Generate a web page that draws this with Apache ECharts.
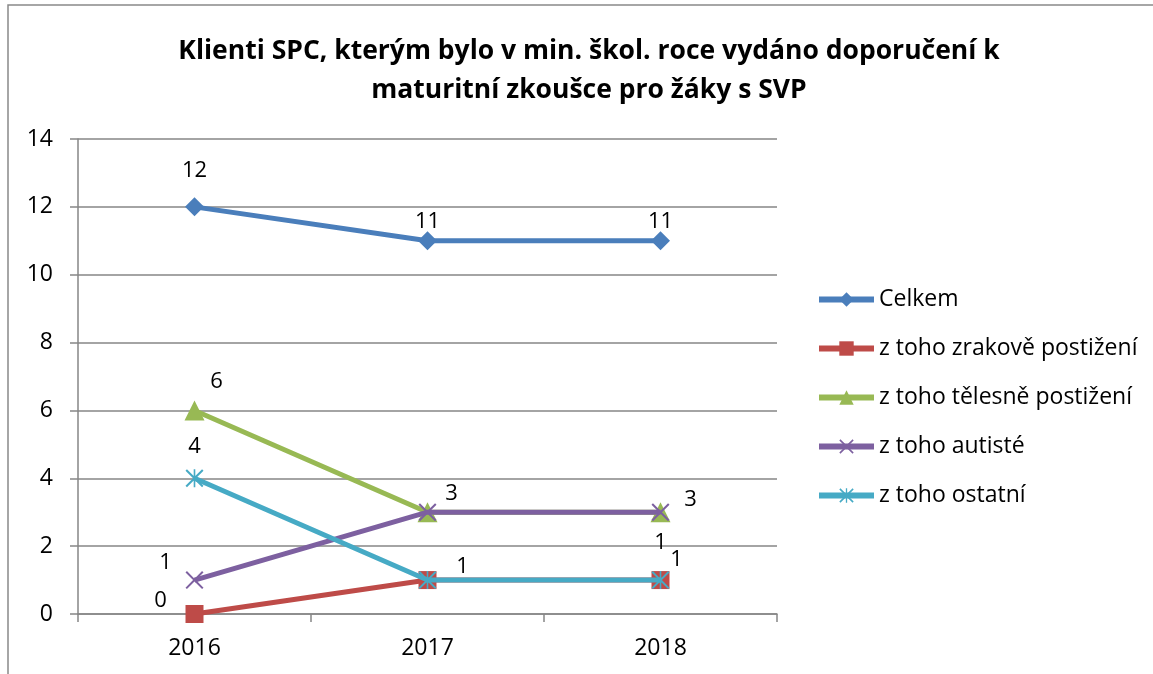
<!DOCTYPE html>
<html><head><meta charset="utf-8">
<script src="https://cdn.jsdelivr.net/npm/echarts@6/dist/echarts.min.js"></script>
<style>html,body{margin:0;padding:0;background:#fff}#c{width:1153px;height:674px}</style>
</head><body><div id="c"></div>
<script>
const titleText = 'Klienti SPC, kterým bylo v min. škol. roce vydáno doporučení k\nmaturitní zkoušce pro žáky s SVP';
const categories = ['2016', '2017', '2018'];
const seriesNames = ['Celkem', 'z toho zrakově postižení', 'z toho tělesně postižení', 'z toho autisté', 'z toho ostatní'];
const celkem = [12, 11, 11];
const zrakove = [0, 1, 1];
const telesne = [6, 3, 3];
const autiste = [1, 3, 3];
const ostatni = [4, 1, 1];
const yTicks = {min: 0, max: 14, interval: 2};

// label placement (null = label hidden due to overlap in original)
const labelOffsets = [
  [[0, -36], [0, -19], [0, -19]],
  [[-34, -13], [35, -13], [16, -20]],
  [[22, -29], [24, -18], null],
  [[-29, -17], null, [30, -12]],
  [[0, -32], null, [0, -37]]
];
const colors = ['#4A7EBB', '#BE4B48', '#98B954', '#7D60A0', '#46AAC5'];
const xPath = 'path://M0,0.8 L0.8,0 L5,4.2 L9.2,0 L10,0.8 L5.8,5 L10,9.2 L9.2,10 L5,5.8 L0.8,10 L0,9.2 L4.2,5 Z';
const starPath = 'path://M0,0.8 L0.8,0 L5,4.2 L9.2,0 L10,0.8 L5.8,5 L10,9.2 L9.2,10 L5,5.8 L0.8,10 L0,9.2 L4.2,5 Z M4.55,0 L5.45,0 L5.45,10 L4.55,10 Z';
const symbols = ['diamond', 'rect', 'triangle', xPath, starPath];
const symbolSizes = [19, 18, 20, 18, 18];
const values = [celkem, zrakove, telesne, autiste, ostatni];
const FONT = 'Open Sans';

const series = values.map((vals, si) => ({
  name: seriesNames[si],
  type: 'line',
  data: vals.map((v, i) => {
    const off = labelOffsets[si][i];
    return {
      value: v,
      label: off ? {show: true, position: 'inside', offset: off} : {show: false}
    };
  }),
  symbol: symbols[si],
  symbolSize: symbolSizes[si],
  showAllSymbol: true,
  lineStyle: {width: 5, color: colors[si]},
  itemStyle: {color: colors[si]},
  label: {color: '#000', fontSize: 22, fontFamily: FONT},
  emphasis: {disabled: true},
  animation: false,
  z: 2 + si
}));

const chart = echarts.init(document.getElementById('c'), null, {renderer: 'canvas'});
chart.setOption({
  backgroundColor: '#fff',
  animation: false,
  color: colors,
  title: {
    text: titleText,
    left: 584,
    top: 27,
    textAlign: 'center',
    textStyle: {fontFamily: FONT, fontWeight: 'bold', fontSize: 26.5, lineHeight: 39, color: '#000'}
  },
  graphic: [{
    type: 'rect', shape: {x: 8, y: 5, width: 1200, height: 750},
    style: {fill: 'none', stroke: '#898989', lineWidth: 1.5}, silent: true, z: 100
  }],
  legend: {
    orient: 'vertical',
    left: 811,
    top: 283,
    itemWidth: 55,
    itemHeight: 18,
    itemGap: 26,
    data: seriesNames.map(n => ({name: n, lineStyle: {width: 6}})),
    lineStyle: {width: 6},
    textStyle: {fontFamily: FONT, fontSize: 23, color: '#000'},
    selectedMode: false
  },
  grid: {left: 78, right: 376, top: 139, bottom: 60, containLabel: false},
  xAxis: {
    type: 'category',
    data: categories,
    boundaryGap: true,
    axisLine: {lineStyle: {color: '#868686', width: 1.5}},
    axisTick: {show: true, length: 8, lineStyle: {color: '#868686', width: 1.5}},
    axisLabel: {fontFamily: FONT, fontSize: 23, color: '#000', margin: 23},
    splitLine: {show: false}
  },
  yAxis: {
    type: 'value',
    min: yTicks.min, max: yTicks.max, interval: yTicks.interval,
    axisLine: {show: true, lineStyle: {color: '#868686', width: 1.5}},
    axisTick: {show: true, length: 8, lineStyle: {color: '#868686', width: 1.5}},
    axisLabel: {fontFamily: FONT, fontSize: 23, color: '#000', margin: 25},
    splitLine: {show: true, lineStyle: {color: '#868686', width: 1.5}}
  },
  series: series
});
</script></body></html>
